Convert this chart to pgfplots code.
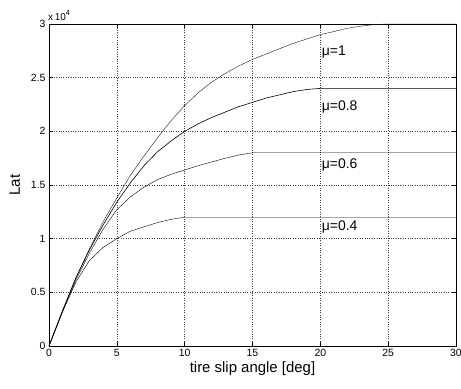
\documentclass[border=0pt]{standalone}
\usepackage{fontspec}
\setmainfont{Liberation Sans}
\usepackage{pgfplots}
\pgfplotsset{compat=1.18}
\begin{document}
\begin{tikzpicture}
\useasboundingbox (-49bp,-43bp) rectangle (412bp,346bp);
\begin{axis}[
  at={(0,0)}, anchor=south west,
  scale only axis, width=407bp, height=322bp,
  xmin=0, xmax=30, ymin=0, ymax=30000,
  xtick={0,5,...,30}, ytick={0,5000,...,30000},
  scaled x ticks=false,
  scaled y ticks=manual:{\fontsize{10}{11}\selectfont x\,10\raisebox{0.9ex}{\fontsize{7.5}{8}\selectfont 4}}{\pgfmathparse{#1/10000}},
  every y tick scale label/.style={at={(rel axis cs:0,1)}, anchor=south west, inner sep=0pt, yshift=3bp, xshift=-1bp},
  /pgf/number format/assume math mode=true,
  ticklabel style={font=\fontsize{10.5}{12}\selectfont},
  grid=major,
  major grid style={dotted, black!75, line width=0.5bp},
  tick align=inside, major tick length=4bp,
  tick style={black, line width=0.5bp},
  axis line style={black, line width=0.6bp},
  xlabel={tire slip angle [deg]},
  ylabel={Lat},
  xlabel style={font=\fontsize{15}{17}\selectfont, inner sep=1bp},
  ylabel style={font=\fontsize{15}{17}\selectfont, xshift=0bp, yshift=4bp},
  cycle list={{black!90, line width=0.6bp, no marks, sharp plot}},
  clip=false,
]
% mu = 1
\addplot coordinates {(0,0) (1,3300) (2,6400) (3,9100) (4,11600) (5,13800) (6,15900) (7,17700) (8,19400) (9,21000) (10,22400) (11,23600) (12,24600) (13,25400) (14,26100) (15,26700) (16,27200) (17,27700) (18,28200) (19,28600) (20,29000) (21,29300) (22,29600) (23,29800) (24,29950) (25,30000) (30,30000)};
% mu = 0.8
\addplot coordinates {(0,0) (1,3300) (2,6400) (3,9000) (4,11300) (5,13400) (6,15200) (7,16800) (8,18100) (9,19100) (10,20000) (11,20700) (12,21300) (13,21800) (14,22300) (15,22700) (16,23100) (17,23400) (18,23700) (19,23900) (20,24000) (30,24000)};
% mu = 0.6
\addplot coordinates {(0,0) (1,3200) (2,6200) (3,8700) (4,10900) (5,12700) (6,13900) (7,14800) (8,15500) (9,16000) (10,16400) (11,16800) (12,17150) (13,17500) (14,17800) (15,18000) (30,18000)};
% mu = 0.4
\addplot coordinates {(0,0) (1,3200) (2,6000) (3,8000) (4,9200) (5,10000) (6,10700) (7,11100) (8,11500) (9,11800) (10,12000) (30,12000)};
\node[anchor=west, inner sep=0pt, font=\fontsize{14}{16}\selectfont] at (axis cs:20.1,27400) {μ=1};
\node[anchor=west, inner sep=0pt, font=\fontsize{14}{16}\selectfont] at (axis cs:20.1,22300) {μ=0.8};
\node[anchor=west, inner sep=0pt, font=\fontsize{14}{16}\selectfont] at (axis cs:20.1,16900) {μ=0.6};
\node[anchor=west, inner sep=0pt, font=\fontsize{14}{16}\selectfont] at (axis cs:20.1,11100) {μ=0.4};
\end{axis}
\end{tikzpicture}
\end{document}
